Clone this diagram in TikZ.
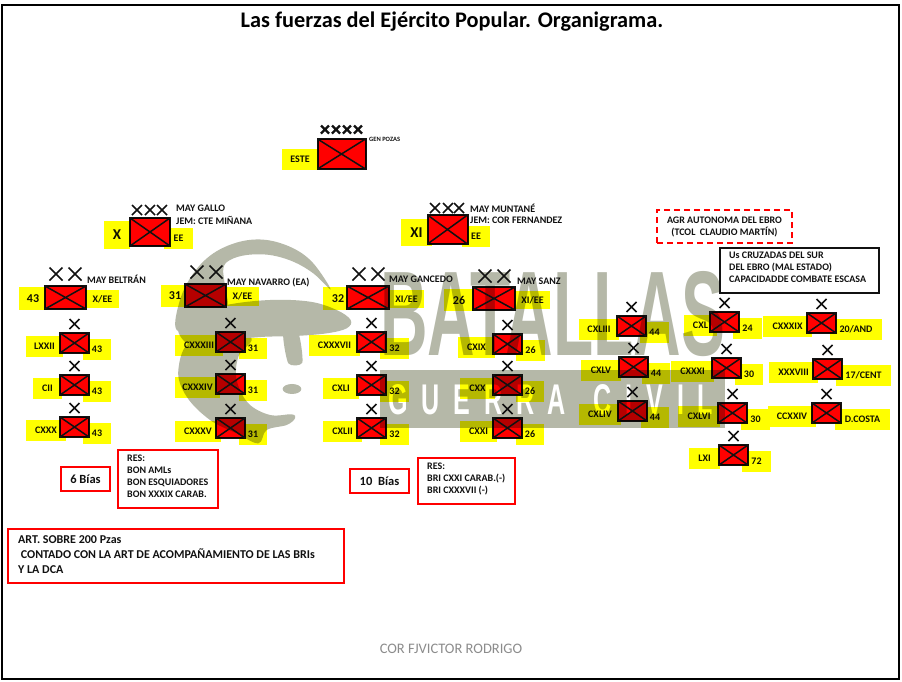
\documentclass[tikz,border=0pt]{standalone}
\usepackage{fontspec}
\usepackage{graphicx}
\setmainfont{Carlito}
\newfontfamily\wmfont{Liberation Sans}
\usetikzlibrary{shapes.misc}
\definecolor{yel}{HTML}{FFFF00}
\definecolor{wm}{HTML}{B5B8A8}
\definecolor{ink}{HTML}{111111}
\tikzset{
  yelbox/.style={fill=yel,inner sep=0pt,outer sep=0pt,text=ink,font=\bfseries\fontsize{10}{12}\selectfont},
  symbox/.style={draw=ink,fill=red,line width=2pt,inner sep=0pt,outer sep=0pt,anchor=north west},
  mk/.style={cross out,draw=ink,line width=1.5pt,inner sep=0pt,outer sep=0pt,minimum width=#1,minimum height=#1},
  mkb/.style={cross out,draw=ink,line width=2.4pt,inner sep=0pt,outer sep=0pt,minimum width=8pt,minimum height=8pt},
  note/.style={font=\bfseries\fontsize{10}{12}\selectfont,text=ink,inner sep=0pt,anchor=west},
  redbox/.style={draw=red,line width=1.6pt,fill=white,inner sep=0pt,outer sep=0pt,anchor=north west}
}
% yellow label: id, x1, y1, x2, y2, text, size
\newcommand{\Ylw}[7]{\node[yelbox,blend mode=multiply,minimum width={(#4-#2)*1pt},minimum height={(#5-#3)*1pt}] (#1) at ({(#2+#4)/2},{(#3+#5)/2}) {\fontsize{#7}{#7}\selectfont #6};}
% symbol: id, x1, y1, x2, y2
\newcommand{\Sym}[5]{\node[symbox,blend mode=multiply,minimum width={(#4-#2)*1pt},minimum height={(#5-#3)*1pt}] (#1) at (#2,#3) {};
  \draw[ink,line width=1.5pt] (#1.north west) -- (#1.south east) (#1.north east) -- (#1.south west);}
% brigade: id, bx, by, lx1, lx2, label, rx2, sublabel, size
\newcommand{\Brig}[9]{\Ylw{#1l}{#4}{\numexpr#3+3\relax}{#5}{\numexpr#3+24\relax}{#6}{10}%
  \BrigB{#1}{#2}{#3}{#7}{#8}{#9}}
\newcommand{\BrigB}[6]{\Ylw{#1r}{\numexpr#2+23\relax}{\numexpr#3+6\relax}{#4}{\numexpr#3+27\relax}{#5}{#6}%
  \Sym{#1}{#2}{#3}{\numexpr#2+29\relax}{\numexpr#3+20\relax}%
  \node[mk=10pt] (#1x) at (#2+14.5,#3-9) {};}
\begin{document}
\begin{tikzpicture}[x=1pt,y=-1pt]
\useasboundingbox (0,0) rectangle (902,681);
\fill[white] (0,0) rectangle (902,681);

% watermark, laid first; the fills above it multiply with it
\begin{scope}[shift={(170,230)},x=0.3333pt,y=-0.3333pt]
  \fill[wm] plot[smooth cycle,tension=0.6] coordinates {(20,300)(30,210)(70,130)(130,70)(210,35)(290,30)(370,55)(430,100)(482,178)(430,130)(370,95)(300,75)(230,75)(180,90)(160,115)(165,170)(170,240)(100,290)};
  \fill[wm] plot[smooth cycle,tension=0.6] coordinates {(25,295)(90,255)(170,225)(300,210)(420,215)(500,240)(542,270)(530,295)(470,310)(375,318)(290,320)(220,325)(130,330)(60,345)};
  \fill[wm] plot[smooth cycle,tension=0.4] coordinates {(340,310)(385,310)(397,398)(355,400)};
  \fill[wm] (366,477) ellipse [x radius=28,y radius=15];
  \fill[wm] plot[smooth cycle,tension=0.6] coordinates {(70,330)(25,420)(50,500)(120,570)(200,610)(265,640)(290,600)(350,585)(375,565)(365,553)(300,555)(235,520)(200,450)(205,380)(240,322)};
\end{scope}
\node[anchor=south west,inner sep=0pt,text=wm,font=\wmfont\bfseries] (wmtext) at (380,357) {\resizebox{345pt}{84pt}{BATALLAS}};
\node[fill=wm,inner sep=0pt,anchor=north west,minimum width=345pt,minimum height=58pt] (wmband) at (380,370) {};
\node[anchor=south west,inner sep=0pt,text=white,font=\wmfont\bfseries] (wmband2) at (388,415) {\resizebox{325pt}{30pt}{G\hspace{5.5pt}U\hspace{5.5pt}E\hspace{5.5pt}R\hspace{5.5pt}R\hspace{5.5pt}A\hspace{11pt}C\hspace{5.5pt}I\hspace{5.5pt}V\hspace{5.5pt}I\hspace{5.5pt}L}};

\draw[black,line width=2.2pt] (2,5) rectangle (899,679);
\node[font=\bfseries\fontsize{22.3}{24}\selectfont,inner sep=0pt] (title) at (452,22) {Las fuerzas del Ejército Popular. Organigrama.};

% army
\Ylw{este}{282}{149}{318}{170}{ESTE}{10}
\Sym{esteb}{317.5}{139}{365.5}{169}
\foreach \i/\x in {1/325,2/336,3/347,4/358}{\node[mkb] (a\i) at (\x,129.5) {};}
\node[note,font=\bfseries\fontsize{6.5}{8}\selectfont] (pozas) at (369,139.5) {GEN POZAS};

% corps X
\Ylw{xl}{104}{221}{130}{249}{X}{15}
\Ylw{xr}{164}{228}{193}{249}{EE}{10}
\Sym{xb}{130}{218}{170}{246}
\foreach \i/\x in {1/137,2/150,3/162}{\node[mk=10pt] (xm\i) at (\x,210) {};}
\node[note] (xt1) at (176,208) {MAY GALLO};
\node[note] (xt2) at (176,220) {JEM: CTE MIÑANA};

% corps XI
\Ylw{xil}{401}{219}{432}{246}{XI}{15}
\Ylw{xir}{462}{226}{490}{247}{EE}{10}
\Sym{xib}{427.5}{215}{467.5}{244}
\foreach \i/\x in {1/435,2/448,3/459}{\node[mk=10pt] (xim\i) at (\x,208) {};}
\node[note] (xit1) at (470,208) {MAY MUNTANÉ};
\node[note] (xit2) at (470,220) {JEM: COR FERNANDEZ};

% divisions
\Ylw{dal}{19}{287}{47}{310}{43}{12}
\Ylw{dar}{86}{290}{119}{308}{X/EE}{10}
\Sym{da}{45}{286}{86}{309}
\node[mk=13pt] (dax1) at (56,274) {}; \node[mk=13pt] (dax2) at (75,274) {};
\node[note] (dat) at (87,279) {MAY BELTRÁN};

\Ylw{dbl}{161}{285}{189}{307}{31}{12}
\Ylw{dbr}{226}{287}{259}{306}{X/EE}{10}
\Sym{db}{185}{284}{226}{307}
\node[mk=13pt] (dbx1) at (197,272) {}; \node[mk=13pt] (dbx2) at (216,272) {};
\node[note] (dbt) at (227,283) {MAY NAVARRO (EA)};

\Ylw{dcl}{323}{287}{353}{310}{32}{12}
\Ylw{dcr}{389}{290}{424}{308}{XI/EE}{10}
\Sym{dc}{347}{286}{389}{309}
\node[mk=13pt] (dcx1) at (359,274) {}; \node[mk=13pt] (dcx2) at (378,274) {};
\node[note] (dct) at (389,279) {MAY GANCEDO};

\Ylw{ddl}{444}{289}{474}{311}{26}{12}
\Ylw{ddr}{515}{291}{550}{309}{XI/EE}{10}
\Sym{dd}{473}{287}{515}{310}
\node[mk=13pt] (ddx1) at (485,276) {}; \node[mk=13pt] (ddx2) at (504,276) {};
\node[note] (ddt) at (517,281) {MAY SANZ};

% brigades: id, bx, by, lx1, lx2, label, rx2, sublabel, size
\Brig{b1}{60}{333}{26}{63}{LXXII}{111}{43}{10}
\Brig{b2}{60}{375}{33}{62}{CII}{111}{43}{10}
\Brig{b3}{60}{417}{26}{66}{CXXX}{111}{43}{10}
\Brig{c1}{216}{332}{175}{223}{CXXXIII}{267}{31}{10}
\Brig{c2}{216}{374}{175}{220}{CXXXIV}{267}{31}{10}
\Brig{c3}{216}{418}{175}{221}{CXXXV}{267}{31}{10}
\Brig{d1}{357}{332}{309}{360}{CXXXVII}{409}{32}{10}
\Brig{d2}{357}{375}{323}{359}{CXLI}{409}{32}{10}
\Brig{d3}{357}{418}{323}{362}{CXLII}{409}{32}{10}
\Brig{e1}{493}{334}{458}{495}{CXIX}{545}{26}{10}
\Brig{e2}{493}{375}{460}{495}{CXX}{544}{26}{10}
\Brig{e3}{493}{418}{460}{497}{CXXI}{544}{26}{10}
\Brig{f1}{617}{316}{579}{619}{CXLIII}{669}{44}{10}
\Brig{f2}{619}{357}{581}{621}{CXLV}{670}{44}{10}
\Brig{f3}{618}{401}{579}{621}{CXLIV}{669}{44}{10}
\Brig{g1}{710}{312}{684}{717}{CXL}{762}{24}{10}
\Brig{g2}{712}{358}{671}{714}{CXXXI}{763}{30}{10}
\Brig{g3}{718}{403}{678}{720}{CXLVI}{770}{30}{10}
\Brig{g4}{719}{445}{689}{720}{LXI}{771}{72}{10}
\Brig{h1}{807}{313}{763}{812}{CXXXIX}{882}{20/AND}{10}
\Brig{h2}{813}{359}{769}{818}{XXXVIII}{891}{17/CENT}{10}
\Brig{h3}{812}{403}{768}{816}{CCXXIV}{890}{D.COSTA}{10}

% text boxes
\node[redbox,dashed,dash pattern=on 6pt off 4pt,line width=1.8pt,minimum width=135pt,minimum height=33pt] (agr) at (657,210) {};
\node[font=\bfseries\fontsize{10}{12}\selectfont,text=ink,align=center,inner sep=0pt] (agrt) at (agr.center) {AGR AUTONOMA DEL EBRO\\(TCOL\ \ CLAUDIO MARTÍN)};
\node[draw=ink,line width=1.8pt,fill=white,inner sep=0pt,outer sep=0pt,anchor=north west,minimum width=159pt,minimum height=45pt] (us) at (720,248) {};
\node[note,anchor=north west,align=left] (ust) at (729,252) {Us CRUZADAS DEL SUR\\DEL EBRO (MAL ESTADO)\\CAPACIDADDE COMBATE ESCASA};

\node[redbox,minimum width=49pt,minimum height=24pt] (bi6) at (61,467) {};
\node[font=\bfseries\fontsize{12.5}{14}\selectfont,text=ink,inner sep=0pt] (bi6t) at (bi6.center) {6 Bías};
\node[redbox,minimum width=100pt,minimum height=58pt] (res1) at (118,450) {};
\node[note,anchor=north west,align=left] (res1t) at (127,455) {RES:\\BON AMLs\\BON ESQUIADORES\\BON XXXIX CARAB.};
\node[redbox,minimum width=59pt,minimum height=24pt] (bi10) at (350,469) {};
\node[font=\bfseries\fontsize{12.5}{14}\selectfont,text=ink,inner sep=0pt] (bi10t) at (bi10.center) {10\ \ Bías};
\node[redbox,minimum width=97pt,minimum height=46pt] (res2) at (418,458) {};
\node[note,anchor=north west,align=left] (res2t) at (427,463) {RES:\\BRI CXXI CARAB.(-)\\BRI CXXXVII (-)};
\node[redbox,minimum width=336pt,minimum height=54pt] (art) at (8,529) {};
\node[note,anchor=north west,align=left,font=\bfseries\fontsize{12}{15}\selectfont] (artt) at (18,535) {ART. SOBRE 200 Pzas\\\ CONTADO CON LA ART DE ACOMPAÑAMIENTO DE LAS BRIs\\Y LA DCA};
\node[font=\fontsize{14.5}{16}\selectfont,text=black!45,inner sep=0pt] (foot) at (451,649) {COR FJVICTOR RODRIGO};
\end{tikzpicture}
\end{document}
